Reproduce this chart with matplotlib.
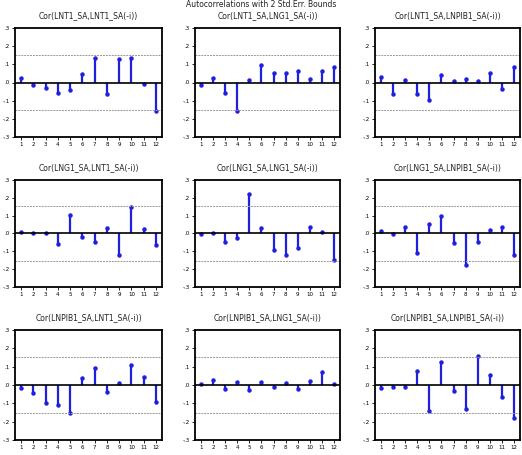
import matplotlib
matplotlib.use("Agg")
import matplotlib.pyplot as plt
import numpy as np

lags = np.arange(1, 13)
bound = 0.153

titles = [
    "Cor(LNT1_SA,LNT1_SA(-i))",
    "Cor(LNT1_SA,LNG1_SA(-i))",
    "Cor(LNT1_SA,LNPIB1_SA(-i))",
    "Cor(LNG1_SA,LNT1_SA(-i))",
    "Cor(LNG1_SA,LNG1_SA(-i))",
    "Cor(LNG1_SA,LNPIB1_SA(-i))",
    "Cor(LNPIB1_SA,LNT1_SA(-i))",
    "Cor(LNPIB1_SA,LNG1_SA(-i))",
    "Cor(LNPIB1_SA,LNPIB1_SA(-i))",
]

t1_t1 = [0.026, -0.015, -0.028, -0.058, -0.043, 0.045, 0.134, -0.066, 0.132, 0.134, -0.011, -0.158]
t1_g1 = [-0.013, 0.025, -0.057, -0.155, 0.013, 0.098, 0.053, 0.053, 0.062, 0.021, 0.066, 0.083]
t1_p1 = [0.028, -0.064, 0.015, -0.066, -0.094, 0.040, 0.011, 0.019, 0.008, 0.053, -0.034, 0.085]
g1_t1 = [0.011, 0.002, 0.002, -0.058, 0.101, -0.017, -0.045, 0.030, -0.120, 0.150, 0.026, -0.062]
g1_g1 = [-0.002, 0.001, -0.049, -0.024, 0.221, 0.030, -0.093, -0.121, -0.084, 0.037, 0.011, -0.151]
g1_p1 = [0.013, -0.004, 0.037, -0.112, 0.052, 0.097, -0.052, -0.174, -0.045, 0.017, 0.036, -0.118]
p1_t1 = [-0.019, -0.041, -0.097, -0.107, -0.153, 0.039, 0.092, -0.039, 0.009, 0.107, 0.043, -0.095]
p1_g1 = [0.007, 0.026, -0.024, 0.017, -0.026, 0.019, -0.009, 0.013, -0.021, 0.022, 0.073, 0.007]
p1_p1 = [-0.017, -0.013, -0.013, 0.075, -0.142, 0.123, -0.032, -0.133, 0.159, 0.056, -0.067, -0.179]

series = [t1_t1, t1_g1, t1_p1, g1_t1, g1_g1, g1_p1, p1_t1, p1_g1, p1_p1]

W, H = 522, 455
col_x = [(15, 162), (195, 340), (375, 520)]
row_y = [(28, 137), (180, 287), (330, 440)]

fig = plt.figure(figsize=(W / 100, H / 100), dpi=100)
fig.text(0.5, 0.999, "Autocorrelations with 2 Std.Err. Bounds",
         ha="center", va="top", fontsize=5.5, color="#222222")

for i, (title, vals) in enumerate(zip(titles, series)):
    r, c = divmod(i, 3)
    x0, x1 = col_x[c]
    y0, y1 = row_y[r]
    ax = fig.add_axes([x0 / W, (H - y1) / H, (x1 - x0) / W, (y1 - y0) / H])
    ax.vlines(lags, 0, vals, color="#1f1fe0", lw=1.6)
    ax.plot(lags, vals, "o", color="#1f1fe0", ms=2.2)
    ax.axhline(0, color="black", lw=1.2)
    ax.axhline(bound, color="#999999", lw=0.7, ls=(0, (2, 1)))
    ax.axhline(-bound, color="#999999", lw=0.7, ls=(0, (2, 1)))
    ax.set_xlim(0.5, 12.5)
    ax.set_ylim(-0.3, 0.3)
    ax.set_xticks(lags)
    ax.set_xticklabels([str(k) for k in lags])
    ax.set_yticks([0.3, 0.2, 0.1, 0.0, -0.1, -0.2, -0.3])
    ax.set_yticklabels([".3", ".2", ".1", ".0", "-.1", "-.2", "-.3"])
    ax.tick_params(labelsize=4, length=2, width=0.6, pad=1.5)
    for sp in ax.spines.values():
        sp.set_linewidth(1.3)
    ax.set_title(title, fontsize=5.5, pad=7, color="#222222")

fig.savefig("out.png", dpi=100)
